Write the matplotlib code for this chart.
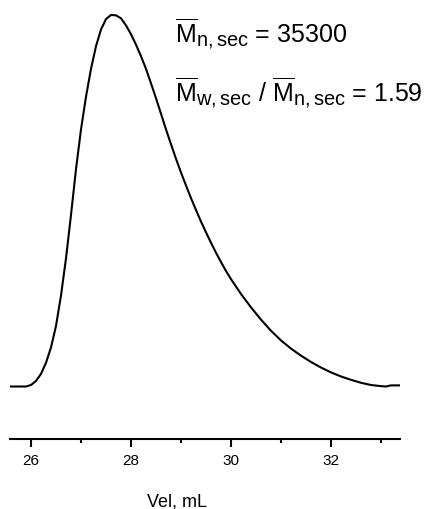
import matplotlib
matplotlib.use("Agg")
import matplotlib.pyplot as plt
import matplotlib._mathtext as _mt
from matplotlib import font_manager
from matplotlib.ticker import FixedLocator

# Elution volume (mL) and normalised detector signal
volume = [25.58, 25.90, 26.00, 26.10, 26.20, 26.30, 26.40, 26.50, 26.60, 26.70,
          26.80, 26.90, 27.00, 27.10, 27.20, 27.30, 27.40, 27.50, 27.60, 27.70,
          27.80, 27.90, 28.00, 28.10, 28.20, 28.30, 28.40, 28.50, 28.60, 28.70,
          28.80, 28.90, 29.00, 29.10, 29.20, 29.30, 29.40, 29.50, 29.60, 29.70,
          29.80, 29.90, 30.00, 30.20, 30.40, 30.60, 30.80, 31.00, 31.20, 31.40,
          31.60, 31.80, 32.00, 32.20, 32.40, 32.60, 32.80, 33.00, 33.10, 33.20,
          33.38]
signal = [0.000, 0.000, 0.004, 0.015, 0.034, 0.064, 0.105, 0.163, 0.245, 0.345,
          0.462, 0.585, 0.692, 0.780, 0.855, 0.916, 0.961, 0.989, 1.000, 0.999,
          0.991, 0.972, 0.948, 0.920, 0.889, 0.855, 0.816, 0.776, 0.734, 0.692,
          0.652, 0.613, 0.576, 0.541, 0.507, 0.475, 0.444, 0.415, 0.387, 0.360,
          0.335, 0.311, 0.289, 0.249, 0.213, 0.180, 0.150, 0.124, 0.102, 0.083,
          0.066, 0.051, 0.038, 0.027, 0.018, 0.010, 0.004, 0.001, 0.000, 0.003,
          0.003]

major_ticks = [26, 28, 30, 32]
minor_ticks = [27, 29, 31, 33]
x_label = "Vel, mL"
label_mn = r"$\overline{\mathrm{M}}_{\mathrm{n,sec}}$ = 35300"
label_pdi = r"$\overline{\mathrm{M}}_{\mathrm{w,sec}}$ / $\overline{\mathrm{M}}_{\mathrm{n,sec}}$ = 1.59"

# larger subscripts, as in the reference
_mt.SHRINK_FACTOR = 0.8

names = {f.name for f in font_manager.fontManager.ttflist}
narrow = "Liberation Sans Narrow" if "Liberation Sans Narrow" in names else "Liberation Sans"

plt.rcParams["font.family"] = ["Liberation Sans", "DejaVu Sans"]
plt.rcParams["mathtext.fontset"] = "custom"
plt.rcParams["mathtext.rm"] = "Liberation Sans"
plt.rcParams["mathtext.it"] = "Liberation Sans:italic"
plt.rcParams["mathtext.bf"] = "Liberation Sans:bold"

W, H = 435, 510
fig = plt.figure(figsize=(W / 100, H / 100), dpi=100)
ax = fig.add_axes([10 / W, (H - 440) / H, 390 / W, 440 / H])

ax.plot(volume, signal, color="black", linewidth=1.5,
        solid_joinstyle="round", solid_capstyle="butt")

ax.set_xlim(25.58, 33.38)
ax.set_ylim(-0.1413, 1.043)

for s in ("top", "left", "right"):
    ax.spines[s].set_visible(False)
ax.spines["bottom"].set_linewidth(1.5)
ax.set_yticks([])
ax.xaxis.set_major_locator(FixedLocator(major_ticks))
ax.xaxis.set_minor_locator(FixedLocator(minor_ticks))
ax.set_xticklabels([str(t) for t in major_ticks], fontfamily=narrow, fontsize=11)
ax.tick_params(axis="x", which="major", length=6, width=1.5, pad=4, direction="out")
ax.tick_params(axis="x", which="minor", length=3, width=1.5, direction="out")

fig.text(177 / W, 1 - 502 / H, x_label, ha="center", va="center", fontsize=13,
         fontfamily=narrow)

fig.text(175 / W, 1 - 42 / H, label_mn, ha="left", va="baseline", fontsize=18)
fig.text(175 / W, 1 - 101 / H, label_pdi, ha="left", va="baseline", fontsize=18)

fig.savefig("out.png", dpi=100)
